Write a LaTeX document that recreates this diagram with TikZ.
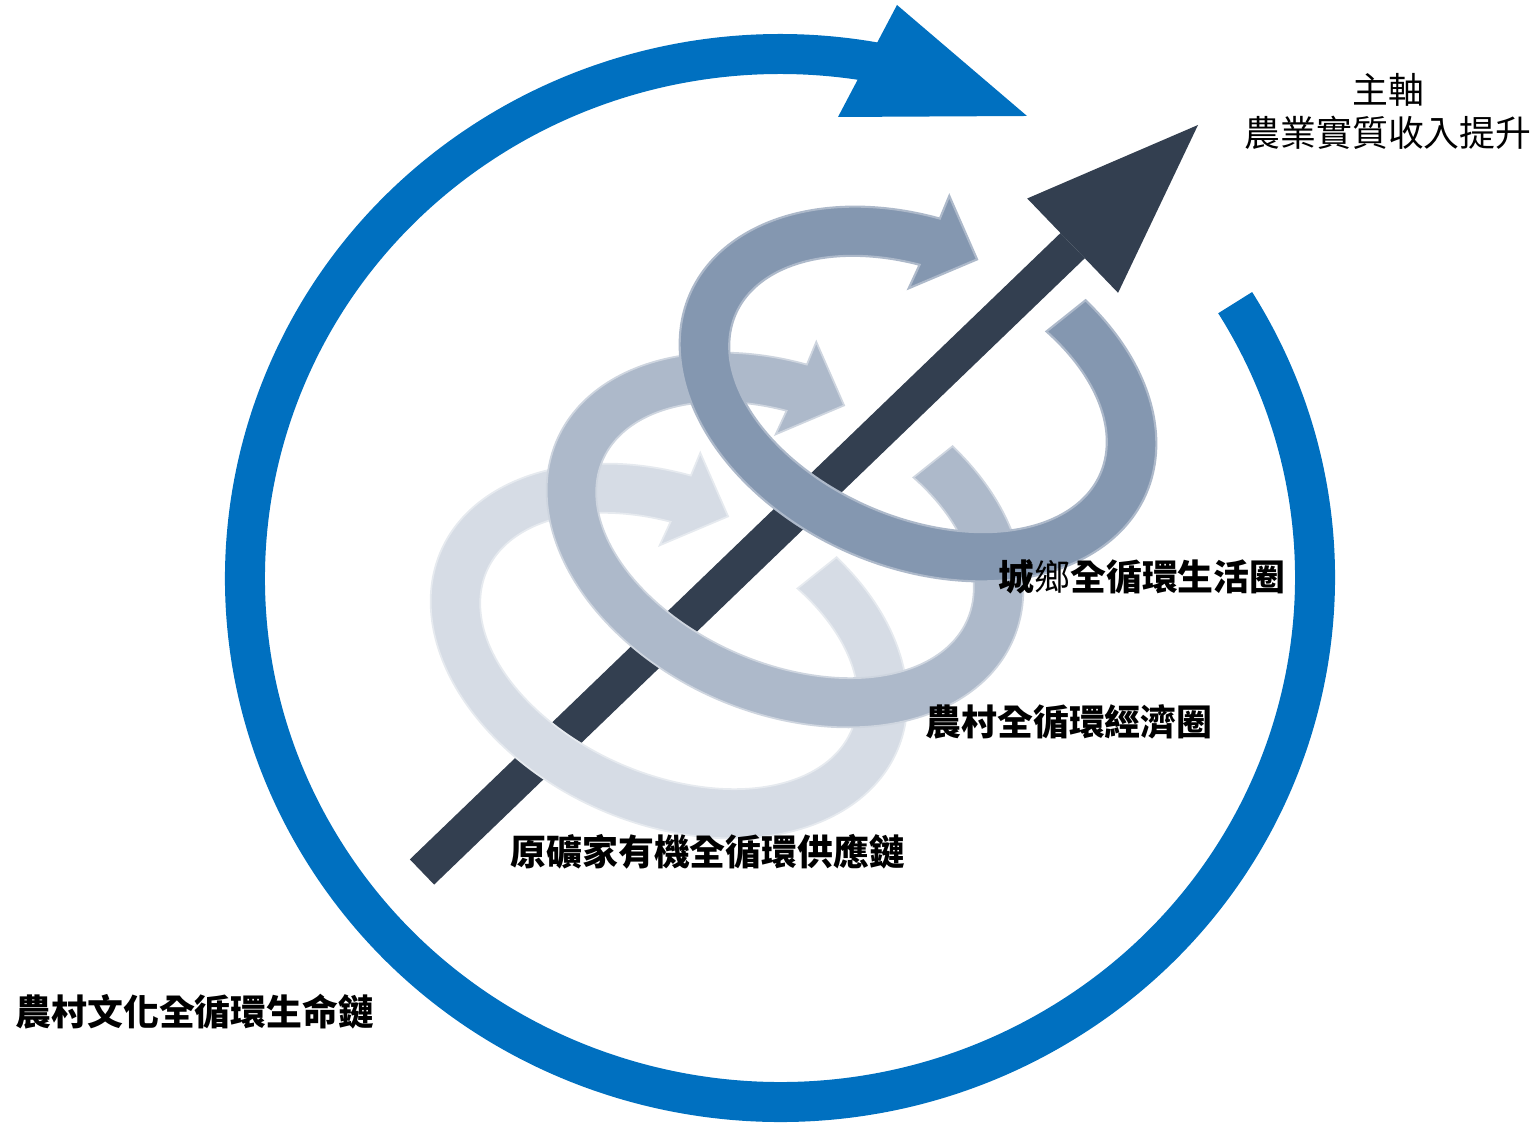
\documentclass[tikz,border=0pt]{standalone}
\usepackage{fontspec}
\setmainfont{Noto Sans CJK TC}
\usepackage{tikz}
\usetikzlibrary{arrows.meta}

\definecolor{cycleblue}{HTML}{0070C0}
\definecolor{axisdark}{HTML}{333F50}
\definecolor{ringtop}{HTML}{8497B0}
\definecolor{ringmid}{HTML}{ADB9CA}
\definecolor{ringlow}{HTML}{D6DCE5}

\newcommand{\loopring}[3]{%
\begin{scope}[shift={(#1,#2)}, rotate=-23.7]
    \filldraw[#3] (62.3:2.49 and 1.73)
        arc[start angle=62.3, end angle=-258.3, x radius=2.49, y radius=1.73]
        -- (-0.51,1.94) -- (0,1.47) -- (-0.51,0.93) -- (-255.3:1.99 and 1.23)
        arc[start angle=-255.3, end angle=62.3, x radius=1.99, y radius=1.23] -- cycle;
\end{scope}}

\begin{document}
\begin{tikzpicture}
\tikzset{
    axis/.style={axisdark, line width=0.35cm, -{Triangle[length=1.74cm, width=1.31cm, line width=0pt]}},
    txt/.style={inner sep=0pt, font=\fontsize{10.2pt}{12.2pt}\selectfont},
    boldtxt/.style={txt, anchor=west, font=\fontsize{10.2pt}{12.2pt}\selectfont\bfseries}
}
\useasboundingbox (0,0) rectangle (15.38,11.26);

% outer cycle
\coordinate (hub) at (7.80,5.48);
\draw[cycleblue, line width=0.4cm] (hub) ++(31.7:5.35 and 5.24)
    arc[start angle=31.7, end angle=-281, x radius=5.35, y radius=5.24];
\coordinate (h1) at (8.97,11.21);
\coordinate (h2) at (10.27,10.10);
\coordinate (h3) at (8.38,10.09);
\fill[cycleblue] (h1) -- (h2) -- (h3) -- cycle;

% main axis
\coordinate (origin) at (4.22,2.54);
\coordinate (goal) at (11.98,10.01);
\draw[axis] (origin) -- (goal);

% three loops
\loopring{6.69}{4.75}{fill=ringlow, draw=ringlow!60!white, line width=0.5pt}
\loopring{7.85}{5.86}{fill=ringmid, draw=ringmid!60!white, line width=0.5pt}
\loopring{9.18}{7.32}{fill=ringtop, draw=ringmid, line width=0.6pt}

\node[txt, align=center] (goaltxt) at (13.88,10.145) {主軸\\農業實質收入提升};
\node[boldtxt] (urban) at (9.98,5.49) {城{\mdseries 鄉}全循環生活圈};
\node[boldtxt] (rural) at (9.25,4.04) {農村全循環經濟圈};
\node[boldtxt] (supply) at (5.10,2.74) {原礦家有機全循環供應鏈};
\node[boldtxt] (culture) at (0.15,1.14) {農村文化全循環生命鏈};
\end{tikzpicture}
\end{document}
